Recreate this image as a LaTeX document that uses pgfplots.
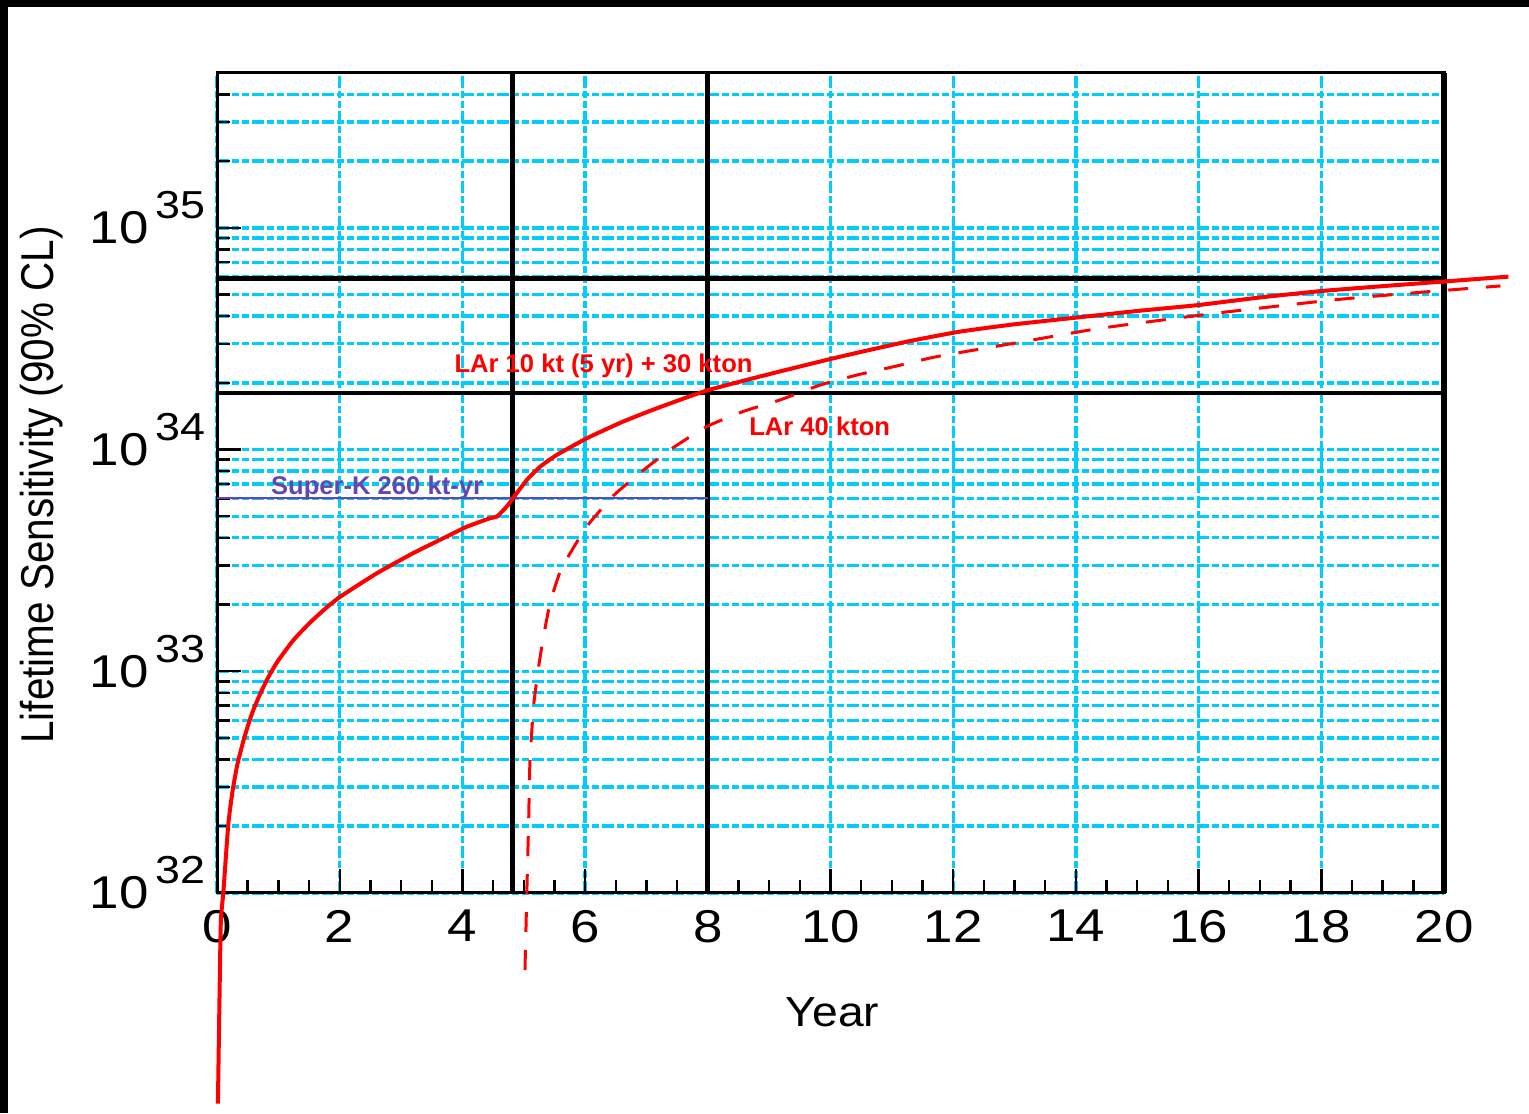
\documentclass[border=0pt]{standalone}
\usepackage{fontspec}
\setmainfont{Liberation Sans}
\newfontfamily\tickfam{Liberation Sans}[FakeStretch=1.15]
\newfontfamily\ylabfam{Liberation Sans}[FakeStretch=0.88]
\newfontfamily\xlabfam{Liberation Sans}[FakeStretch=1.1]
\usepackage{pgfplots}
\pgfplotsset{compat=1.18}
\definecolor{gridcyan}{RGB}{0,204,255}
\definecolor{skpurple}{RGB}{100,70,175}
\newcommand\ylab[1]{10\hspace{3.5pt}\raisebox{12.5pt}[0pt][0pt]{\fontsize{19.5pt}{19.5pt}\selectfont #1}}
\begin{document}
\begin{tikzpicture}
\begin{axis}[
  at={(108.5pt,110pt)}, anchor=south west,
  scale only axis, width=613.5pt, height=410pt,
  xmin=0, xmax=20, ymin=1e32, ymax=5e35,
  ymode=log, log basis y=10,
  clip=false,
  axis line style={line width=1.5pt},
  xtick={0,2,...,20}, xticklabels={0,2,4,6,8,10,12,14,16,18,20},
  minor x tick num=3,
  ytick={1e32,1e33,1e34,1e35}, yticklabels={\ylab{32},\ylab{33},\ylab{34},\ylab{35}},
  minor ytick={2e32,3e32,4e32,5e32,6e32,7e32,8e32,9e32,2e33,3e33,4e33,5e33,6e33,7e33,8e33,9e33,2e34,3e34,4e34,5e34,6e34,7e34,8e34,9e34,2e35,3e35,4e35},
  xtick pos=bottom, ytick pos=left,
  tick align=inside,
  major tick length=12pt, minor tick length=6.5pt,
  tick style={black, line width=1.2pt},
  xmajorgrids, ymajorgrids, yminorgrids,
  grid style={gridcyan, line width=1.7pt, dash pattern=on 6pt off 1.5pt on 3.5pt off 1.5pt on 3.5pt off 1.5pt},
  xticklabel style={font=\tickfam\fontsize{23pt}{23pt}\selectfont, anchor=north, inner sep=0pt, yshift=-8.5pt},
  yticklabel style={font=\tickfam\fontsize{23pt}{23pt}\selectfont, anchor=east, inner sep=0pt, xshift=-5.5pt},
  xlabel={Year},
  xlabel style={font=\xlabfam\fontsize{21pt}{21pt}\selectfont, at={(axis description cs:0.5016,-0.1634)}, anchor=base},
  ylabel={Lifetime Sensitivity (90\% CL)},
  ylabel style={font=\ylabfam\fontsize{23pt}{23pt}\selectfont, at={(axis description cs:-0.143,0.4976)}, anchor=center},
]
% reference lines
\addplot[black, line width=2.5pt] coordinates {(4.82,1e32) (4.82,5e35)};
\addplot[black, line width=2.5pt] coordinates {(8,1e32) (8,5e35)};
\addplot[black, line width=2.3pt] coordinates {(0,1.8e34) (20,1.8e34)};
\addplot[black, line width=2.3pt] coordinates {(0,5.9e34) (20,5.9e34)};
\addplot[black, line width=3pt] coordinates {(20,1e32) (20,5e35)};
\addplot[skpurple, line width=0.8pt] coordinates {(0,6.05e33) (8,6.05e33)};
% LAr 40 kton (dashed)
\addplot[red, line width=1.5pt, dash pattern=on 10pt off 9pt, smooth, tension=0.3] coordinates {
(5.02,4.49e31) (5.05,1.0e32) (5.08,2.11e32) (5.10,3.84e32) (5.16,6.97e32)
(5.24,1.035e33) (5.32,1.422e33) (5.43,2.037e33) (5.59,2.80e33) (5.76,3.42e33)
(6.03,4.51e33) (6.46,6.19e33) (6.90,7.87e33) (7.39,1.0e34) (7.98,1.268e34)
(8.58,1.486e34) (9.18,1.675e34) (9.83,1.954e34) (10.43,2.168e34) (11.08,2.382e34)
(11.73,2.624e34) (13,3.02e34) (14.40,3.524e34) (16.25,4.111e34) (18.20,4.732e34)
(19.56,5.105e34) (20.92,5.47e34)};
% LAr 10 kt (5 yr) + 30 kton (solid)
\addplot[red, line width=2pt, smooth, tension=0.3] coordinates {
(0.015,1.12e31) (0.06,7.0e31) (0.103,1.0e32) (0.185,2.05e32) (0.255,2.9e32)
(0.332,3.8e32) (0.43,4.85e32) (0.527,5.95e32) (0.603,6.8e32) (0.712,8.0e32)
(0.81,9.1e32) (0.891,1.0e33) (1.0,1.12e33) (1.244,1.38e33) (1.5,1.64e33)
(1.75,1.9e33) (2.0,2.16e33) (2.59,2.75e33) (3.18,3.39e33) (3.64,3.92e33)
(4.06,4.47e33) (4.45,4.90e33) (4.56,4.98e33) (4.72,5.52e33) (4.82,6.01e33)
(5.05,7.29e33) (5.27,8.38e33) (5.54,9.46e33) (6.03,1.125e34) (6.62,1.337e34)
(7.17,1.535e34) (7.98,1.845e34) (9.07,2.213e34) (10.16,2.624e34) (11.25,3.069e34)
(12.11,3.404e34) (13,3.673e34) (14,3.936e34) (15,4.217e34) (16,4.487e34)
(17,4.853e34) (18,5.188e34) (19,5.458e34) (20,5.728e34) (21.05,6.026e34)};
\node[red, font=\bfseries\fontsize{12.8pt}{12.8pt}\selectfont, anchor=base west, inner sep=0pt] at (axis cs:3.865,2.233e34) {LAr 10 kt (5 yr) + 30 kton};
\node[red, font=\bfseries\fontsize{12.8pt}{12.8pt}\selectfont, anchor=base west, inner sep=0pt] at (axis cs:8.67,1.152e34) {LAr 40 kton};
\node[skpurple, font=\bfseries\fontsize{12.8pt}{12.8pt}\selectfont, anchor=base west, inner sep=0pt] at (axis cs:0.875,6.24e33) {Super-K 260 kt-yr};
\end{axis}
\fill[black] (0,553pt) rectangle (764.5pt,556.5pt);
\fill[black] (0,0) rectangle (4pt,556.5pt);
\pgfresetboundingbox
\useasboundingbox (0,0) rectangle (764.5pt,556.5pt);
\end{tikzpicture}
\end{document}
